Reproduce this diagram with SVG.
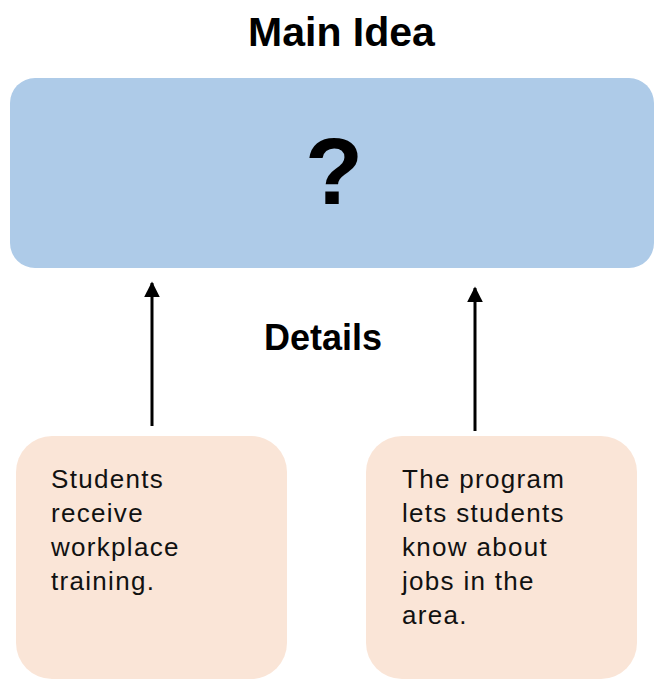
<svg xmlns="http://www.w3.org/2000/svg" width="654" height="679" viewBox="0 0 654 679">
<style>
.head{font-family:"Liberation Sans",Arial,sans-serif;font-weight:bold;fill:#000;text-anchor:middle}
.body{font-family:"Liberation Sans",Arial,sans-serif;font-size:26px;letter-spacing:1.3px;fill:#111}
.detail{fill:#fae5d7}
.conn{stroke:#000;stroke-width:3;fill:none;marker-end:url(#arrow)}
</style>
<defs>
<marker id="arrow" viewBox="0 0 10 10" refX="9" refY="5" markerWidth="5.3" markerHeight="5.3" markerUnits="strokeWidth" orient="auto">
<path d="M0,0 L10,5 L0,10 z" fill="#000"/>
</marker>
</defs>
<rect width="654" height="679" fill="#fff"/>
<text class="head" x="341.5" y="46" font-size="41">Main Idea</text>
<g id="main">
<rect x="10" y="78" width="644" height="190" rx="25" fill="#aecbe8"/>
<text class="head" x="334" y="204" font-size="95">?</text>
</g>
<text class="head" x="323" y="350" font-size="36">Details</text>
<g id="connectors">
<line class="conn" x1="152" y1="426" x2="152" y2="283"/>
<line class="conn" x1="475" y1="431" x2="475" y2="288"/>
</g>
<g id="detail1">
<rect class="detail" x="16" y="436" width="271" height="243" rx="36"/>
<text class="body" x="51"><tspan x="51" y="488">Students</tspan><tspan x="51" y="522">receive</tspan><tspan x="51" y="556">workplace</tspan><tspan x="51" y="590">training.</tspan></text>
</g>
<g id="detail2">
<rect class="detail" x="366" y="436" width="271" height="243" rx="36"/>
<text class="body" x="402"><tspan x="402" y="488">The program</tspan><tspan x="402" y="522">lets students</tspan><tspan x="402" y="556">know about</tspan><tspan x="402" y="590">jobs in the</tspan><tspan x="402" y="624">area.</tspan></text>
</g>
</svg>
